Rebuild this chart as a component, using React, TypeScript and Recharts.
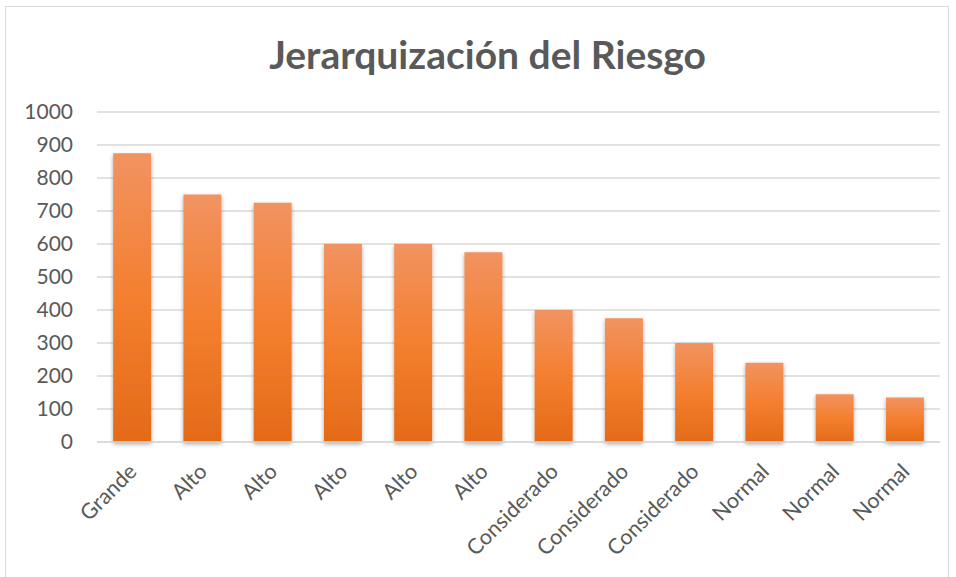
import { Bar, BarChart, CartesianGrid, XAxis, YAxis } from 'recharts';

const categories = ['Grande', 'Alto', 'Alto', 'Alto', 'Alto', 'Alto', 'Considerado', 'Considerado', 'Considerado', 'Normal', 'Normal', 'Normal'];
const riskValues = [875, 750, 725, 600, 600, 575, 400, 375, 300, 240, 145, 135];
const yTicks = [0, 100, 200, 300, 400, 500, 600, 700, 800, 900, 1000];

const data = categories.map((name, i) => ({ idx: i, name, value: riskValues[i] }));

const FONT = 'Lato, "Open Sans", sans-serif';
const TEXT = '#595959';

function RotatedTick(props: any) {
  const { x, y, payload } = props;
  const label = categories[payload.value];
  return (
    <g transform={`translate(${x + 1},${y + 18})`}>
      <text transform="rotate(-45)" textAnchor="end" dy={7} fill={TEXT} fontSize={21.5} fontFamily={FONT}>
        {label}
      </text>
    </g>
  );
}

export default function App() {
  return (
    <div style={{ position: 'absolute', left: 0, top: 0, width: 956, height: 577, background: '#fff' }}>
      <div
        style={{
          position: 'absolute',
          left: 5,
          top: 6,
          width: 944,
          height: 580,
          border: '1px solid #d9d9d9',
          boxSizing: 'border-box',
        }}
      />
      <div
        style={{
          position: 'absolute',
          left: 0,
          top: 31,
          width: 975,
          textAlign: 'center',
          fontFamily: FONT,
          fontWeight: 700,
          fontSize: 39,
          color: TEXT,
        }}
      >
        Jerarquización del Riesgo
      </div>
      <div style={{ position: 'absolute', left: 0, top: 0 }}>
        <BarChart width={956} height={577} data={data} margin={{ top: 112, right: 16, left: 0, bottom: 0 }} barCategoryGap="23%">
          <defs>
            <linearGradient id="orangeFill" x1="0" x2="0" y1="0" y2="1">
              <stop offset="0%" stopColor="#F19361" />
              <stop offset="50%" stopColor="#F47F2F" />
              <stop offset="100%" stopColor="#E46A18" />
            </linearGradient>
            <filter id="barShadow" x="-20%" y="-5%" width="140%" height="115%">
              <feDropShadow dx="0" dy="2" stdDeviation="2" floodColor="#000" floodOpacity="0.35" />
            </filter>
          </defs>
          <CartesianGrid stroke="#d9d9d9" strokeWidth={1.5} vertical={false} />
          <XAxis
            dataKey="idx"
            type="category"
            height={135}
            tick={<RotatedTick />}
            tickLine={false}
            axisLine={{ stroke: '#d9d9d9', strokeWidth: 1.5 }}
            interval={0}
          />
          <YAxis
            domain={[0, 1000]}
            ticks={yTicks}
            width={97}
            tickMargin={18}
            tickLine={false}
            axisLine={false}
            tick={{ fill: TEXT, fontSize: 21, fontFamily: FONT }}
          />
          <Bar dataKey="value" fill="url(#orangeFill)" filter="url(#barShadow)" isAnimationActive={false} />
        </BarChart>
      </div>
    </div>
  );
}
